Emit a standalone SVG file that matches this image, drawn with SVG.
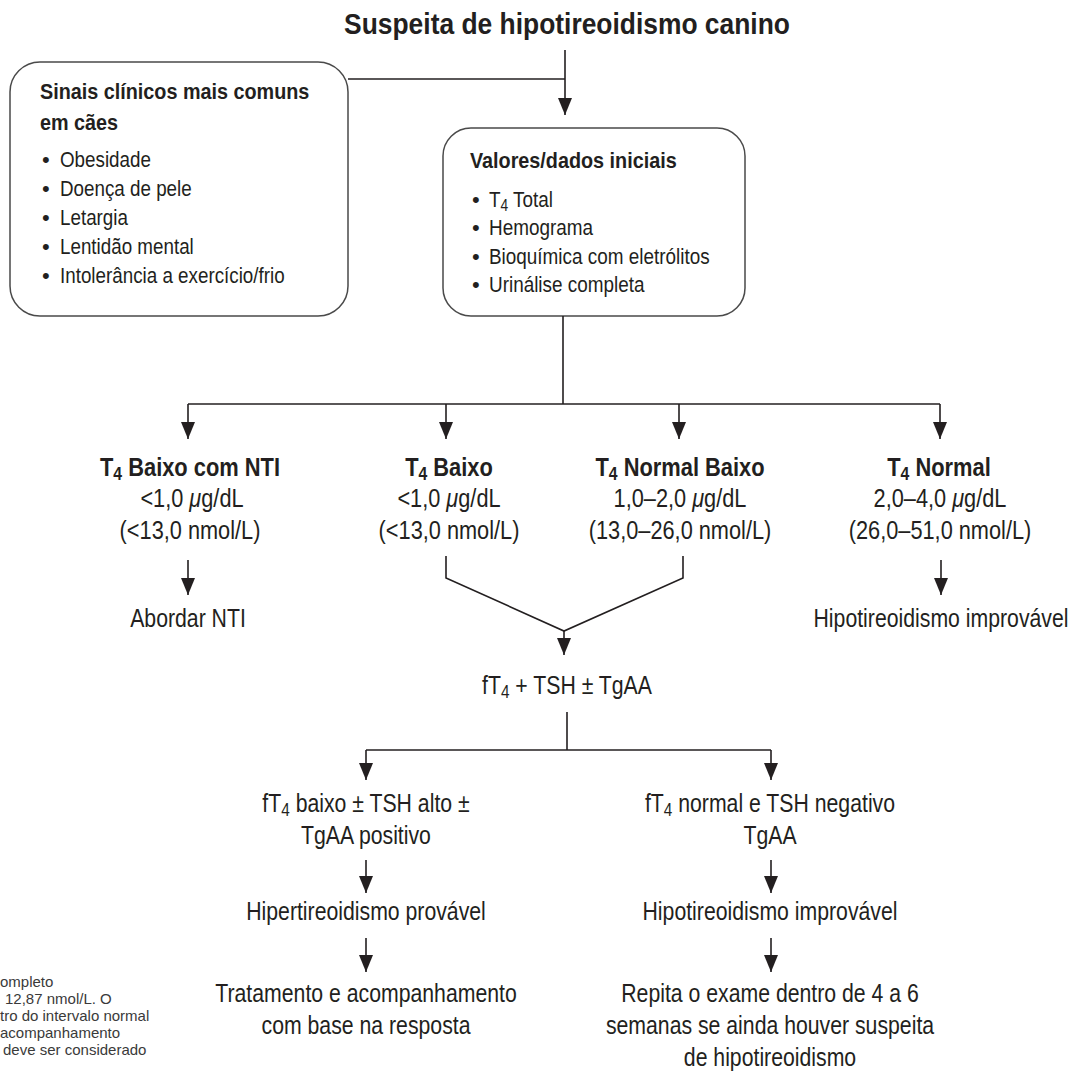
<svg xmlns="http://www.w3.org/2000/svg" width="1083" height="1075" viewBox="0 0 1083 1075">
<style>
.t{font-family:"Liberation Sans",Arial,Helvetica,sans-serif;fill:#231f20}
.b{font-weight:bold}
.lg{font-size:25px}
.sm{font-size:22px}
.m{text-anchor:middle}
.box{fill:#fff;stroke:#4a4a4a;stroke-width:1.5}
.ln{fill:none;stroke:#231f20;stroke-width:1.6}
.fn{font-family:"Liberation Sans",Arial,sans-serif;font-size:15px;fill:#3a3a3a}
</style>
<defs>
<marker id="ah" markerUnits="userSpaceOnUse" viewBox="0 0 17 14" markerWidth="17" markerHeight="14" refX="17" refY="7" orient="auto">
<path d="M0,0 L17,7 L0,14 z" fill="#231f20"/>
</marker>
</defs>
<rect width="1083" height="1075" fill="#fff"/>

<g id="title">
<text class="t b m" font-size="30" transform="translate(567,34) scale(0.88,1)">Suspeita de hipotireoidismo canino</text>
</g>

<g id="sinais">
<rect class="box" x="10" y="62" width="338" height="254" rx="30"/>
<text class="t b sm" transform="translate(40,99) scale(0.9,1)">Sinais clínicos mais comuns</text>
<text class="t b sm" transform="translate(40,130) scale(0.9,1)">em cães</text>
<text class="t sm" x="42" y="167">•</text><text class="t sm" transform="translate(60,167) scale(0.855,1)">Obesidade</text>
<text class="t sm" x="42" y="196">•</text><text class="t sm" transform="translate(60,196) scale(0.855,1)">Doença de pele</text>
<text class="t sm" x="42" y="225">•</text><text class="t sm" transform="translate(60,225) scale(0.855,1)">Letargia</text>
<text class="t sm" x="42" y="254">•</text><text class="t sm" transform="translate(60,254) scale(0.855,1)">Lentidão mental</text>
<text class="t sm" x="42" y="283">•</text><text class="t sm" transform="translate(60,283) scale(0.855,1)">Intolerância a exercício/frio</text>
</g>

<g id="valores">
<rect class="box" x="443" y="128" width="302" height="188" rx="28"/>
<text class="t b sm" transform="translate(470,168) scale(0.9,1)">Valores/dados iniciais</text>
<text class="t sm" x="472" y="207">•</text><text class="t sm" transform="translate(489,207) scale(0.86,1)">T<tspan dy="4" font-size="16">4</tspan><tspan dy="-4"> Total</tspan></text>
<text class="t sm" x="472" y="235">•</text><text class="t sm" transform="translate(489,235) scale(0.86,1)">Hemograma</text>
<text class="t sm" x="472" y="264">•</text><text class="t sm" transform="translate(489,264) scale(0.86,1)">Bioquímica com eletrólitos</text>
<text class="t sm" x="472" y="292">•</text><text class="t sm" transform="translate(489,292) scale(0.86,1)">Urinálise completa</text>
</g>

<g id="t4-baixo-nti">
<text class="t b lg m" transform="translate(190,476) scale(0.875,1)">T<tspan dy="4" font-size="18">4</tspan><tspan dy="-4"> Baixo com NTI</tspan></text>
<text class="t lg m" transform="translate(192,507) scale(0.87,1)">&lt;1,0 <tspan font-style="italic">μ</tspan>g/dL</text>
<text class="t lg m" transform="translate(190,539) scale(0.87,1)">(&lt;13,0 nmol/L)</text>
</g>

<g id="t4-baixo">
<text class="t b lg m" transform="translate(449,476) scale(0.875,1)">T<tspan dy="4" font-size="18">4</tspan><tspan dy="-4"> Baixo</tspan></text>
<text class="t lg m" transform="translate(449,507) scale(0.87,1)">&lt;1,0 <tspan font-style="italic">μ</tspan>g/dL</text>
<text class="t lg m" transform="translate(449,539) scale(0.87,1)">(&lt;13,0 nmol/L)</text>
</g>

<g id="t4-normal-baixo">
<text class="t b lg m" transform="translate(680,476) scale(0.875,1)">T<tspan dy="4" font-size="18">4</tspan><tspan dy="-4"> Normal Baixo</tspan></text>
<text class="t lg m" transform="translate(680,507) scale(0.87,1)">1,0–2,0 <tspan font-style="italic">μ</tspan>g/dL</text>
<text class="t lg m" transform="translate(680,539) scale(0.87,1)">(13,0–26,0 nmol/L)</text>
</g>

<g id="t4-normal">
<text class="t b lg m" transform="translate(939,476) scale(0.875,1)">T<tspan dy="4" font-size="18">4</tspan><tspan dy="-4"> Normal</tspan></text>
<text class="t lg m" transform="translate(940,507) scale(0.87,1)">2,0–4,0 <tspan font-style="italic">μ</tspan>g/dL</text>
<text class="t lg m" transform="translate(940,539) scale(0.87,1)">(26,0–51,0 nmol/L)</text>
</g>

<g id="abordar">
<text class="t lg m" transform="translate(188,627) scale(0.85,1)">Abordar NTI</text>
</g>

<g id="improvavel1">
<text class="t lg m" transform="translate(941,627) scale(0.85,1)">Hipotireoidismo improvável</text>
</g>

<g id="ft4-tsh">
<text class="t lg m" transform="translate(567,694) scale(0.85,1)">fT<tspan dy="4" font-size="18">4</tspan><tspan dy="-4"> + TSH ± TgAA</tspan></text>
</g>

<g id="ft4-baixo">
<text class="t lg m" transform="translate(366,812) scale(0.85,1)">fT<tspan dy="4" font-size="18">4</tspan><tspan dy="-4"> baixo ± TSH alto ±</tspan></text>
<text class="t lg m" transform="translate(366,844) scale(0.85,1)">TgAA positivo</text>
</g>

<g id="ft4-normal">
<text class="t lg m" transform="translate(770,812) scale(0.85,1)">fT<tspan dy="4" font-size="18">4</tspan><tspan dy="-4"> normal e TSH negativo</tspan></text>
<text class="t lg m" transform="translate(770,844) scale(0.85,1)">TgAA</text>
</g>

<g id="hiper-provavel">
<text class="t lg m" transform="translate(366,920) scale(0.85,1)">Hipertireoidismo provável</text>
</g>

<g id="improvavel2">
<text class="t lg m" transform="translate(770,920) scale(0.85,1)">Hipotireoidismo improvável</text>
</g>

<g id="tratamento">
<text class="t lg m" transform="translate(366,1002) scale(0.85,1)">Tratamento e acompanhamento</text>
<text class="t lg m" transform="translate(366,1034) scale(0.85,1)">com base na resposta</text>
</g>

<g id="repita">
<text class="t lg m" transform="translate(770,1002) scale(0.85,1)">Repita o exame dentro de 4 a 6</text>
<text class="t lg m" transform="translate(770,1034) scale(0.85,1)">semanas se ainda houver suspeita</text>
<text class="t lg m" transform="translate(770,1066) scale(0.85,1)">de hipotireoidismo</text>
</g>

<g id="footnote">
<text class="fn" x="0" y="987">ompleto</text>
<text class="fn" x="5" y="1004">12,87 nmol/L. O</text>
<text class="fn" x="0" y="1021">tro do intervalo normal</text>
<text class="fn" x="0" y="1038">acompanhamento</text>
<text class="fn" x="3" y="1055">deve ser considerado</text>
</g>

<g id="connectors">
<path class="ln" d="M348,79 H565"/>
<path class="ln" d="M565,50 V115" marker-end="url(#ah)"/>
<path class="ln" d="M563,316 V404"/>
<path class="ln" d="M188,404 H940"/>
<path class="ln" d="M188,404 V439" marker-end="url(#ah)"/>
<path class="ln" d="M446,404 V439" marker-end="url(#ah)"/>
<path class="ln" d="M679,404 V439" marker-end="url(#ah)"/>
<path class="ln" d="M940,404 V439" marker-end="url(#ah)"/>
<path class="ln" d="M188,560 V595" marker-end="url(#ah)"/>
<path class="ln" d="M941,560 V595" marker-end="url(#ah)"/>
<path class="ln" d="M446,556 V578 L564,631 L683,578 V556"/>
<path class="ln" d="M564,631 V655" marker-end="url(#ah)"/>
<path class="ln" d="M567,712 V750"/>
<path class="ln" d="M366,750 H771"/>
<path class="ln" d="M366,750 V780" marker-end="url(#ah)"/>
<path class="ln" d="M771,750 V780" marker-end="url(#ah)"/>
<path class="ln" d="M366,860 V893" marker-end="url(#ah)"/>
<path class="ln" d="M771,860 V893" marker-end="url(#ah)"/>
<path class="ln" d="M366,938 V972" marker-end="url(#ah)"/>
<path class="ln" d="M771,938 V972" marker-end="url(#ah)"/>
</g>
</svg>
